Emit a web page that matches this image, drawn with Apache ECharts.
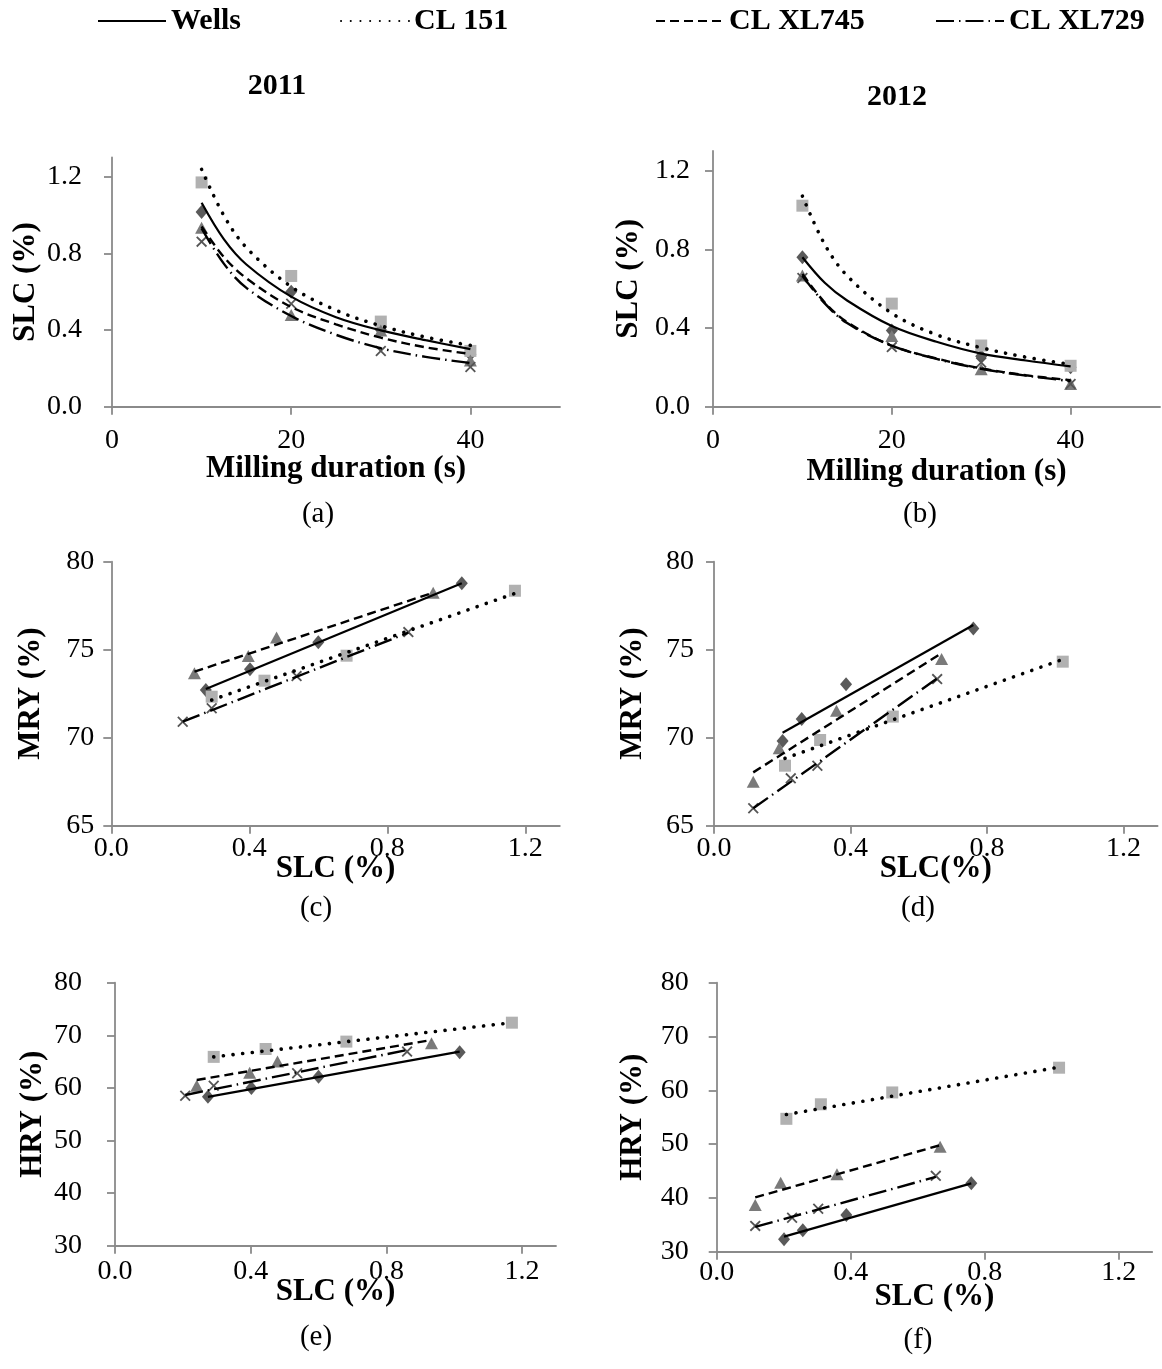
<!DOCTYPE html>
<html><head><meta charset="utf-8">
<script src="https://cdn.jsdelivr.net/npm/echarts@6/dist/echarts.min.js"></script>
<style>html,body{margin:0;padding:0;background:#fff}#c{width:1162px;height:1369px}</style>
</head><body><div id="c"></div>
<script>
// ---------------- DATA ----------------
const cultivars = ['Wells', 'CL 151', 'CL XL745', 'CL XL729'];
const durations = [10, 20, 30, 40];               // milling duration (s)
const xTicksTime = [0, 20, 40];
const xTicksSLC = [0, 0.4, 0.8, 1.2];
const yTicksSLC = [0, 0.4, 0.8, 1.2];

// SLC (%) by milling duration, 2011
const slc2011Wells = [1.016, 0.600, 0.402, 0.274];
const slc2011CL151 = [1.170, 0.682, 0.444, 0.291];
const slc2011XL745 = [0.933, 0.479, 0.397, 0.241];
const slc2011XL729 = [0.861, 0.537, 0.291, 0.207];
// SLC (%) by milling duration, 2012
const slc2012Wells = [0.760, 0.387, 0.257, 0.201];
const slc2012CL151 = [1.022, 0.524, 0.311, 0.208];
const slc2012XL745 = [0.667, 0.359, 0.191, 0.115];
const slc2012XL729 = [0.654, 0.303, 0.225, 0.115];

// MRY (%)
const mry2011Wells = [78.77, 75.42, 73.89, 72.71];
const mry2011CL151 = [78.35, 74.66, 73.24, 72.33];
const mry2011XL745 = [78.24, 75.70, 74.64, 73.66];
const mry2011XL729 = [76.00, 73.50, 71.67, 70.91];
const mry2012Wells = [76.21, 73.03, 71.06, 69.81];
const mry2012CL151 = [74.32, 71.20, 69.87, 68.41];
const mry2012XL745 = [74.47, 71.53, 69.40, 67.50];
const mry2012XL729 = [73.33, 68.41, 67.69, 65.99];

// HRY (%)
const hry2011Wells = [66.8, 62.1, 60.0, 58.3];
const hry2011CL151 = [72.4, 68.8, 67.4, 65.9];
const hry2011XL745 = [68.5, 65.0, 62.9, 60.4];
const hry2011XL729 = [66.9, 62.8, 60.4, 58.5];
const hry2012Wells = [42.7, 36.8, 34.0, 32.3];
const hry2012CL151 = [64.2, 59.6, 57.4, 54.7];
const hry2012XL745 = [49.5, 44.4, 42.8, 38.7];
const hry2012XL729 = [44.1, 38.0, 36.3, 34.8];

// Trend curves for SLC vs milling duration
const curveX = [10, 12.5, 15, 20, 25, 30, 35, 40];
const curve2011Wells = [1.064, 0.873, 0.742, 0.574, 0.467, 0.398, 0.347, 0.300];
const curve2011CL151 = [1.238, 0.996, 0.830, 0.626, 0.503, 0.422, 0.363, 0.320];
const curve2011XL745 = [0.940, 0.780, 0.670, 0.520, 0.430, 0.360, 0.310, 0.275];
const curve2011XL729 = [0.930, 0.745, 0.620, 0.473, 0.375, 0.305, 0.260, 0.228];
const curve2012Wells = [0.760, 0.630, 0.540, 0.410, 0.330, 0.270, 0.235, 0.205];
const curve2012CL151 = [1.071, 0.825, 0.666, 0.475, 0.366, 0.300, 0.252, 0.215];
const curve2012XL745 = [0.675, 0.530, 0.430, 0.310, 0.245, 0.195, 0.160, 0.135];
const curve2012XL729 = [0.665, 0.525, 0.425, 0.310, 0.243, 0.193, 0.158, 0.130];

// Linear trend lines: [startX, endX], [startY, endY]
const trendMry2011X = [[0.274, 1.016], [0.291, 1.170], [0.241, 0.933], [0.207, 0.861]];
const trendMry2011Y = [[72.77, 78.77], [72.14, 78.20], [73.75, 78.24], [70.91, 75.97]];
const trendMry2012X = [[0.201, 0.760], [0.208, 1.022], [0.115, 0.667], [0.115, 0.654]];
const trendMry2012Y = [[70.28, 76.40], [68.83, 74.45], [68.03, 74.80], [65.99, 73.37]];
const trendHry2011X = [[0.274, 1.016], [0.291, 1.170], [0.241, 0.933], [0.207, 0.861]];
const trendHry2011Y = [[58.30, 66.90], [65.90, 72.40], [61.50, 69.10], [58.65, 67.20]];
const trendHry2012X = [[0.201, 0.760], [0.208, 1.022], [0.115, 0.667], [0.115, 0.654]];
const trendHry2012Y = [[32.80, 42.70], [55.50, 64.30], [40.10, 49.80], [34.60, 43.90]];

// ---------------- STYLE ----------------
const SERIF = '"Liberation Serif", "Times New Roman", serif';
const lineStyles = [
  {color: '#000', width: 2.2, type: 'solid'},
  {color: '#000', width: 3.6, type: [0.1, 9.6], cap: 'round'},
  {color: '#000', width: 2.4, type: [9, 5]},
  {color: '#000', width: 2.4, type: [18, 5, 1.5, 5]}
];
const XPATH = 'path://M0,1.4L1.4,0L6,4.6L10.6,0L12,1.4L7.4,6L12,10.6L10.6,12L6,7.4L1.4,12L0,10.6L4.6,6Z';
const markers = [
  {symbol: 'diamond', size: [12, 14], color: '#5a5a5a'},
  {symbol: 'rect', size: 12, color: '#b1b1b1'},
  {symbol: 'triangle', size: [13, 12], color: '#7a7a7a'},
  {symbol: XPATH, size: 11, color: '#555555'}
];

const grids = [
  {left: 112, top: 157.5, width: 448, height: 249.2},
  {left: 713, top: 151, width: 447, height: 255.7},
  {left: 111.3, top: 561.7, width: 448.5, height: 264},
  {left: 714, top: 561.7, width: 443.6, height: 264},
  {left: 115, top: 982.7, width: 441, height: 263},
  {left: 716.7, top: 982.7, width: 435.5, height: 269}
].map(g => Object.assign({outerBoundsMode: 'none', containLabel: false}, g));

const axisLineStyle = {color: '#8a8a8a', width: 1.8};
function baseAxis(extra) {
  return Object.assign({
    type: 'value',
    axisLine: {show: true, onZero: false, lineStyle: axisLineStyle},
    axisTick: {show: true, inside: false, length: 8, lineStyle: axisLineStyle},
    splitLine: {show: false},
    nameLocation: 'middle',
    nameMoveOverlap: false,
    nameTextStyle: {fontFamily: SERIF, fontWeight: 'bold', fontSize: 31, color: '#000'},
  }, extra);
}
function lbl(margin, fmt, custom) {
  return {fontFamily: SERIF, fontSize: 28, color: '#000', margin: margin,
    formatter: fmt, customValues: custom};
}
function tk(custom) {
  return {show: true, length: 8, lineStyle: axisLineStyle, customValues: custom};
}
const f1 = v => Number(v).toFixed(1);
const f0 = v => String(Math.round(v));

const xAxes = [
  baseAxis({gridIndex: 0, min: 0, max: 50, interval: 20, name: 'Milling duration (s)', nameGap: 47,
    axisLabel: lbl(20, f0, xTicksTime), axisTick: tk(xTicksTime)}),
  baseAxis({gridIndex: 1, min: 0, max: 50, interval: 20, name: 'Milling duration (s)', nameGap: 50,
    axisLabel: lbl(20, f0, xTicksTime), axisTick: tk(xTicksTime)}),
  baseAxis({gridIndex: 2, min: 0, max: 1.3, interval: 0.4, name: 'SLC (%)', nameGap: 28,
    axisLabel: lbl(9, f1, xTicksSLC), axisTick: tk(xTicksSLC)}),
  baseAxis({gridIndex: 3, min: 0, max: 1.3, interval: 0.4, name: 'SLC(%)', nameGap: 28,
    axisLabel: lbl(9, f1, xTicksSLC), axisTick: tk(xTicksSLC)}),
  baseAxis({gridIndex: 4, min: 0, max: 1.3, interval: 0.4, name: 'SLC (%)', nameGap: 31,
    axisLabel: lbl(12, f1, xTicksSLC), axisTick: tk(xTicksSLC)}),
  baseAxis({gridIndex: 5, min: 0, max: 1.3, interval: 0.4, name: 'SLC (%)', nameGap: 30,
    axisLabel: lbl(7, f1, xTicksSLC), axisTick: tk(xTicksSLC)})
];
const yAxes = [
  baseAxis({gridIndex: 0, min: 0, max: 1.3, interval: 0.4, name: 'SLC (%)', nameGap: 71,
    axisLabel: lbl(30, f1, yTicksSLC), axisTick: tk(yTicksSLC)}),
  baseAxis({gridIndex: 1, min: 0, max: 1.3, interval: 0.4, name: 'SLC (%)', nameGap: 69,
    axisLabel: lbl(23, f1, yTicksSLC), axisTick: tk(yTicksSLC)}),
  baseAxis({gridIndex: 2, min: 65, max: 80, interval: 5, name: 'MRY (%)', nameGap: 65,
    axisLabel: lbl(17, f0)}),
  baseAxis({gridIndex: 3, min: 65, max: 80, interval: 5, name: 'MRY (%)', nameGap: 66,
    axisLabel: lbl(20, f0)}),
  baseAxis({gridIndex: 4, min: 30, max: 80, interval: 10, name: 'HRY (%)', nameGap: 67,
    axisLabel: lbl(33, f0)}),
  baseAxis({gridIndex: 5, min: 30, max: 80, interval: 10, name: 'HRY (%)', nameGap: 68,
    axisLabel: lbl(28, f0)})
];

// ---------------- SERIES ----------------
const slc2011 = [slc2011Wells, slc2011CL151, slc2011XL745, slc2011XL729];
const slc2012 = [slc2012Wells, slc2012CL151, slc2012XL745, slc2012XL729];
const curves2011 = [curve2011Wells, curve2011CL151, curve2011XL745, curve2011XL729];
const curves2012 = [curve2012Wells, curve2012CL151, curve2012XL745, curve2012XL729];
const mry2011 = [mry2011Wells, mry2011CL151, mry2011XL745, mry2011XL729];
const mry2012 = [mry2012Wells, mry2012CL151, mry2012XL745, mry2012XL729];
const hry2011 = [hry2011Wells, hry2011CL151, hry2011XL745, hry2011XL729];
const hry2012 = [hry2012Wells, hry2012CL151, hry2012XL745, hry2012XL729];

const lineSeries = [];
const scatterSeries = [];
function addLine(idx, name, ci, data, smooth) {
  lineSeries.push({type: 'line', name: name, xAxisIndex: idx, yAxisIndex: idx, data: data,
    smooth: smooth ? 0.35 : false, symbol: 'none', lineStyle: lineStyles[ci],
    itemStyle: {color: '#000'}, z: 5, silent: true, emphasis: {disabled: true}});
}
function addScatter(idx, name, ci, data) {
  const m = markers[ci];
  scatterSeries.push({type: 'scatter', name: name, xAxisIndex: idx, yAxisIndex: idx, data: data,
    symbol: m.symbol, symbolSize: m.size, itemStyle: {color: m.color, opacity: 1}, z: 3,
    silent: true, emphasis: {disabled: true}});
}
cultivars.forEach((name, ci) => {
  addLine(0, name, ci, curveX.map((x, k) => [x, curves2011[ci][k]]), true);
  addLine(1, name, ci, curveX.map((x, k) => [x, curves2012[ci][k]]), true);
});
cultivars.forEach((name, ci) => {
  addLine(2, name, ci, trendMry2011X[ci].map((x, k) => [x, trendMry2011Y[ci][k]]));
  addLine(3, name, ci, trendMry2012X[ci].map((x, k) => [x, trendMry2012Y[ci][k]]));
  addLine(4, name, ci, trendHry2011X[ci].map((x, k) => [x, trendHry2011Y[ci][k]]));
  addLine(5, name, ci, trendHry2012X[ci].map((x, k) => [x, trendHry2012Y[ci][k]]));
  addScatter(0, name, ci, durations.map((d, k) => [d, slc2011[ci][k]]));
  addScatter(1, name, ci, durations.map((d, k) => [d, slc2012[ci][k]]));
  addScatter(2, name, ci, slc2011[ci].map((s, k) => [s, mry2011[ci][k]]));
  addScatter(3, name, ci, slc2012[ci].map((s, k) => [s, mry2012[ci][k]]));
  addScatter(4, name, ci, slc2011[ci].map((s, k) => [s, hry2011[ci][k]]));
  addScatter(5, name, ci, slc2012[ci].map((s, k) => [s, hry2012[ci][k]]));
});

const legendLeft = [97, 340, 655, 935];
const legends = cultivars.map((name, i) => ({
  data: [name], left: legendLeft[i], top: 6, padding: 0, itemGap: 0,
  itemWidth: 68, itemHeight: 20, selectedMode: false,
  itemStyle: {color: 'rgba(0,0,0,0)', borderWidth: 0, opacity: 0},
  textStyle: {fontFamily: SERIF, fontWeight: 'bold', fontSize: 30, color: '#000'}
}));

function txt(t, x, y, bold, size) {
  return {type: 'text', x: x, y: y, silent: true,
    style: {text: t, align: 'center', verticalAlign: 'middle', fill: '#000',
      fontFamily: SERIF, fontWeight: bold ? 'bold' : 'normal', fontSize: size}};
}
const graphics = [
  txt('2011', 277, 86, true, 30), txt('2012', 897, 97, true, 30),
  txt('(a)', 318, 514, false, 29), txt('(b)', 920, 514, false, 29),
  txt('(c)', 316, 908, false, 29), txt('(d)', 918, 908, false, 29),
  txt('(e)', 316, 1337, false, 29), txt('(f)', 918, 1340, false, 29)
];

const chart = echarts.init(document.getElementById('c'), null, {renderer: 'canvas'});
chart.setOption({
  animation: false,
  backgroundColor: '#fff',
  grid: grids,
  xAxis: xAxes,
  yAxis: yAxes,
  legend: legends,
  graphic: graphics,
  series: lineSeries.concat(scatterSeries)
});
</script>
</body></html>
